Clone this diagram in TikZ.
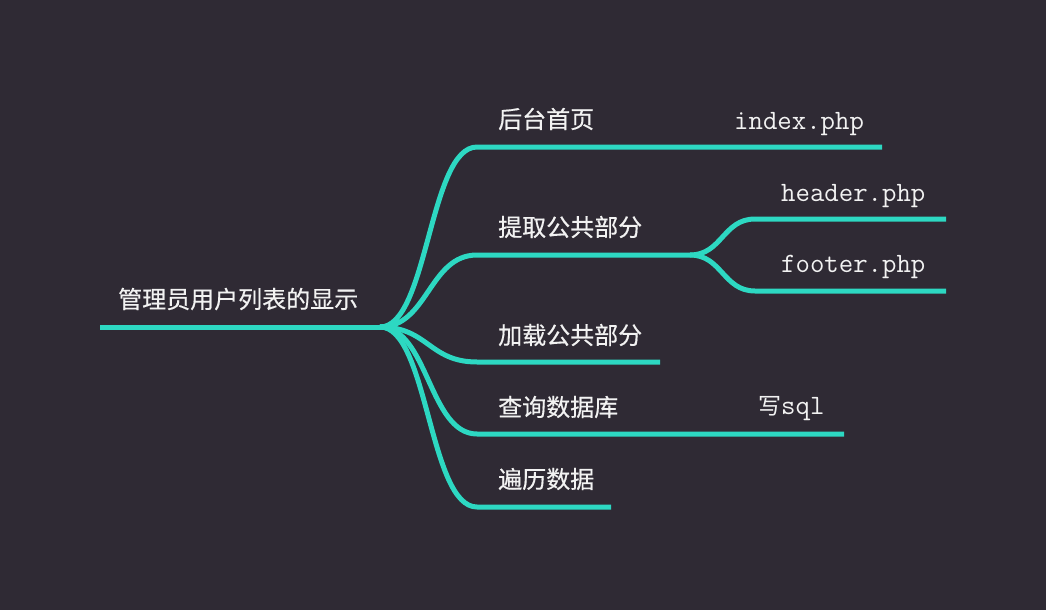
\documentclass[tikz,border=0pt]{standalone}
\usepackage{fontspec}
\setmainfont{Noto Sans CJK SC}
\newfontfamily\cjk[FakeBold=0.5]{Noto Sans CJK SC}
\newfontfamily\cjklight{Noto Sans CJK SC}
\usetikzlibrary{positioning}
\definecolor{bgdark}{HTML}{2F2A34}
\definecolor{mint}{HTML}{2DD8C2}
\definecolor{paper}{HTML}{F2F2F2}

\begin{document}
\begin{tikzpicture}[
      x=1pt, y=-1pt,
      limb/.style={draw=mint, line width=5pt},
      topic/.style={text=paper, font=\cjk\fontsize{24}{24}\selectfont,
                    anchor=west, inner sep=0pt},
      file/.style={text=paper, font=\ttfamily\fontsize{28}{28}\selectfont,
                   anchor=west, inner sep=0pt},
    ]
    \fill[bgdark] (0,0) rectangle (1046,610);
    \useasboundingbox (0,0) rectangle (1046,610);

    % root topic
    \node[topic] (root) at (118,299) {管理员用户列表的显示};
    \coordinate (root0) at (100,327);
    \coordinate (fork) at (380,327);
    \draw[limb] (root0) -- (fork);

    % first level branches
    \node[topic] (home)  at (498,119) {后台首页};
    \node[topic] (split) at (498,227) {提取公共部分};
    \node[topic] (load)  at (498,335) {加载公共部分};
    \node[topic] (query) at (498,407) {查询数据库};
    \node[topic] (loop)  at (498,479) {遍历数据};
    \coordinate (home0)  at (477,147);  \coordinate (home1)  at (882,147);
    \coordinate (split0) at (477,255);  \coordinate (split1) at (690,255);
    \coordinate (load0)  at (477,362);  \coordinate (load1)  at (660,362);
    \coordinate (query0) at (477,434);  \coordinate (query1) at (844,434);
    \coordinate (loop0)  at (477,507);  \coordinate (loop1)  at (611,507);
    \draw[limb] (fork) .. controls +(48,0) and +(-48,0) .. (home0) -- (home1);
    \draw[limb] (fork) .. controls +(48,0) and +(-48,0) .. (split0) -- (split1);
    \draw[limb] (fork) .. controls +(48,0) and +(-48,0) .. (load0) -- (load1);
    \draw[limb] (fork) .. controls +(48,0) and +(-48,0) .. (query0) -- (query1);
    \draw[limb] (fork) .. controls +(48,0) and +(-48,0) .. (loop0) -- (loop1);

    % leaves
    \node[file] (index)  at (734,124) {index.php};
    \node[file] (header) at (781,196) {header.php};
    \node[file] (footer) at (781,267) {footer.php};
    \node[file] (sql)    at (758,409) {{\cjklight\fontsize{23}{23}\selectfont 写}sql};
    \coordinate (header0) at (755,219); \coordinate (header1) at (946,219);
    \coordinate (footer0) at (755,291); \coordinate (footer1) at (946,291);
    \draw[limb] (split1) .. controls +(32,0) and +(-32,0) .. (header0) -- (header1);
    \draw[limb] (split1) .. controls +(32,0) and +(-32,0) .. (footer0) -- (footer1);
  \end{tikzpicture}
\end{document}
